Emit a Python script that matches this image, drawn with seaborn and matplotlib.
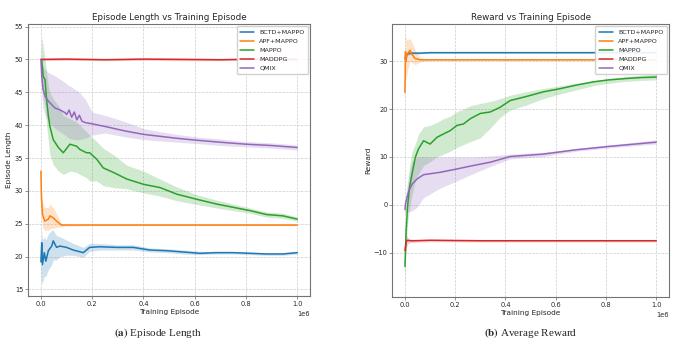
import numpy as np
import pandas as pd
import seaborn as sns
import matplotlib.pyplot as plt

algos = ['BCTD+MAPPO', 'APF+MAPPO', 'MAPPO', 'MADDPG', 'QMIX']
colors = sns.color_palette('tab10', 5)

# ---------- (a) episode length, x in units of 1e6 episodes ----------
len_bctd_x = [0, 0.003, 0.006, 0.013, 0.019, 0.029, 0.042, 0.048, 0.061, 0.074, 0.1, 0.126,
              0.165, 0.19, 0.23, 0.295, 0.36, 0.425, 0.49, 0.555, 0.62, 0.685, 0.75, 0.815, 0.88, 0.944, 1.0]
len_bctd = [19.2, 22.1, 18.8, 20.6, 19.3, 20.9, 21.6, 22.4, 21.4, 21.6, 21.4, 21.0,
            20.6, 21.4, 21.5, 21.4, 21.4, 21.0, 20.9, 20.7, 20.5, 20.6, 20.6, 20.5, 20.4, 20.4, 20.6]
len_bctd_lo = [17.5, 16.0, 16.0, 17.0, 17.0, 18.0, 18.8, 19.5, 19.5, 20.0, 20.2, 20.2,
               19.9, 20.8, 21.0, 21.0, 21.0, 20.7, 20.6, 20.4, 20.3, 20.4, 20.4, 20.3, 20.2, 20.2, 20.4]
len_bctd_hi = [21.0, 24.0, 22.5, 23.0, 22.5, 23.5, 24.0, 24.0, 23.2, 23.0, 22.5, 22.0,
               21.4, 22.0, 22.0, 21.8, 21.8, 21.3, 21.2, 21.0, 20.8, 20.8, 20.8, 20.7, 20.6, 20.6, 20.8]

len_apf_x = [0, 0.002, 0.006, 0.015, 0.029, 0.035, 0.048, 0.061, 0.08, 0.1, 0.2, 0.4, 0.6, 0.8, 1.0]
len_apf = [33.0, 29.0, 26.4, 25.4, 25.7, 26.2, 25.9, 25.4, 24.8, 24.8, 24.8, 24.8, 24.8, 24.8, 24.8]
len_apf_lo = [30.5, 27.0, 24.5, 24.0, 24.0, 24.2, 24.3, 24.4, 24.6, 24.65, 24.7, 24.7, 24.7, 24.7, 24.7]
len_apf_hi = [33.5, 30.0, 28.2, 27.5, 27.5, 28.0, 27.4, 26.5, 25.0, 24.95, 24.9, 24.9, 24.9, 24.9, 24.9]

len_mappo_x = [0, 0.003, 0.009, 0.016, 0.022, 0.029, 0.035, 0.048, 0.068, 0.087, 0.113, 0.139, 0.152,
               0.178, 0.19, 0.218, 0.243, 0.283, 0.335, 0.4, 0.465, 0.53, 0.61, 0.685, 0.75, 0.815, 0.88, 0.944, 1.0]
len_mappo = [50.0, 50.0, 47.4, 46.9, 43.9, 41.4, 39.8, 37.8, 36.6, 35.8, 37.1, 36.8, 36.3,
             35.8, 35.8, 34.8, 33.5, 32.8, 31.8, 31.0, 30.5, 29.5, 28.7, 28.0, 27.5, 27.0, 26.4, 26.2, 25.7]
len_mappo_lo = [49.5, 47.0, 44.0, 43.0, 40.0, 37.5, 35.5, 34.0, 33.0, 32.5, 33.0, 32.8, 32.5,
                32.0, 31.5, 31.5, 30.8, 30.5, 30.3, 29.7, 29.2, 28.5, 27.9, 27.4, 27.0, 26.6, 26.0, 25.8, 25.4]
len_mappo_hi = [50.5, 53.5, 52.0, 50.0, 48.0, 46.0, 45.0, 44.0, 43.0, 41.5, 41.0, 40.5, 40.0,
                39.0, 38.5, 37.5, 36.5, 35.5, 33.9, 33.0, 31.8, 30.6, 29.4, 28.6, 28.0, 27.4, 26.8, 26.6, 26.0]

len_maddpg_x = [0, 0.1, 0.25, 0.4, 0.55, 0.7, 0.85, 1.0]
len_maddpg = [50.0, 50.05, 49.95, 50.05, 50.0, 49.95, 50.05, 50.0]
len_maddpg_lo = [49.8, 49.85, 49.8, 49.85, 49.8, 49.8, 49.85, 49.8]
len_maddpg_hi = [50.2, 50.2, 50.15, 50.2, 50.2, 50.15, 50.2, 50.2]

len_qmix_x = [0, 0.003, 0.008, 0.016, 0.03, 0.055, 0.075, 0.094, 0.1, 0.11, 0.12, 0.13, 0.14, 0.15,
              0.16, 0.172, 0.2, 0.25, 0.33, 0.4, 0.465, 0.53, 0.61, 0.7, 0.8, 0.9, 1.0]
len_qmix = [50.0, 47.5, 45.5, 44.4, 43.6, 42.6, 42.3, 41.9, 41.6, 42.3, 41.2, 42.0, 40.8, 41.5,
            40.6, 40.4, 40.2, 39.8, 39.1, 38.6, 38.3, 38.0, 37.7, 37.4, 37.1, 36.9, 36.6]
len_qmix_lo = [50.0, 45.0, 42.5, 41.5, 40.5, 39.5, 39.0, 38.5, 38.3, 38.0, 37.9, 37.8, 37.8, 37.8,
               37.9, 38.0, 38.5, 38.8, 38.2, 37.8, 37.6, 37.4, 37.2, 36.9, 36.7, 36.5, 36.2]
len_qmix_hi = [50.0, 49.5, 49.0, 48.5, 48.0, 47.5, 47.0, 46.5, 46.3, 46.0, 45.8, 45.5, 45.3, 45.0,
               44.5, 44.0, 42.0, 41.5, 40.5, 39.5, 39.0, 38.6, 38.2, 37.9, 37.5, 37.3, 37.0]

# ---------- (b) average reward ----------
rew_bctd_x = [0, 0.003, 0.008, 0.015, 0.03, 0.06, 0.1, 0.2, 0.4, 0.6, 0.8, 1.0]
rew_bctd = [30.5, 31.2, 31.5, 31.6, 31.7, 31.7, 31.8, 31.8, 31.8, 31.8, 31.8, 31.8]
rew_bctd_lo = [29.5, 30.6, 31.1, 31.3, 31.5, 31.55, 31.65, 31.65, 31.65, 31.65, 31.65, 31.65]
rew_bctd_hi = [31.5, 31.8, 31.9, 31.9, 31.9, 31.85, 31.95, 31.95, 31.95, 31.95, 31.95, 31.95]

rew_apf_x = [0, 0.002, 0.004, 0.007, 0.012, 0.02, 0.027, 0.04, 0.06, 0.08, 0.2, 0.4, 0.6, 0.8, 1.0]
rew_apf = [23.5, 32.0, 30.0, 31.0, 31.7, 32.3, 31.5, 30.6, 30.3, 30.3, 30.3, 30.3, 30.3, 30.3, 30.3]
rew_apf_lo = [20.0, 28.0, 26.0, 27.0, 28.5, 30.0, 29.8, 29.3, 29.8, 30.1, 30.15, 30.15, 30.15, 30.15, 30.15]
rew_apf_hi = [27.0, 35.5, 35.0, 34.5, 34.5, 34.8, 34.0, 32.5, 30.8, 30.5, 30.45, 30.45, 30.45, 30.45, 30.45]

rew_mappo_x = [0, 0.004, 0.01, 0.018, 0.028, 0.041, 0.054, 0.074, 0.1, 0.127, 0.153, 0.18, 0.207, 0.233,
               0.26, 0.3, 0.339, 0.379, 0.419, 0.48, 0.55, 0.62, 0.68, 0.75, 0.81, 0.88, 0.94, 1.0]
rew_mappo = [-12.9, -6.2, -0.5, 3.6, 6.4, 9.9, 11.7, 13.4, 12.7, 14.1, 14.8, 15.5, 16.6, 16.9,
             18.0, 19.1, 19.4, 20.4, 21.8, 22.6, 23.6, 24.3, 25.0, 25.7, 26.1, 26.4, 26.6, 26.7]
rew_mappo_lo = [-17.0, -9.0, -4.0, -1.0, 2.0, 5.0, 6.5, 8.2, 9.0, 10.0, 10.6, 11.2, 12.0, 12.6,
                13.2, 14.0, 16.0, 18.3, 19.8, 20.8, 22.2, 23.2, 24.0, 24.9, 25.4, 25.8, 26.0, 26.1]
rew_mappo_hi = [-11.0, -3.0, 3.0, 8.0, 11.0, 12.7, 14.8, 16.3, 16.6, 17.2, 18.0, 18.5, 19.5, 20.0,
                20.7, 21.2, 21.6, 22.2, 22.9, 23.6, 24.3, 24.9, 25.4, 25.9, 26.4, 26.8, 27.1, 27.3]

rew_maddpg_x = [0, 0.003, 0.006, 0.01, 0.02, 0.04, 0.1, 0.3, 0.5, 0.7, 0.9, 1.0]
rew_maddpg = [-9.5, -8.5, -7.6, -7.4, -7.5, -7.5, -7.4, -7.5, -7.5, -7.5, -7.5, -7.5]
rew_maddpg_lo = [-11.0, -10.3, -9.2, -8.2, -7.9, -7.8, -7.7, -7.75, -7.75, -7.75, -7.75, -7.75]
rew_maddpg_hi = [-7.5, -6.5, -6.3, -6.8, -7.1, -7.2, -7.2, -7.25, -7.25, -7.25, -7.25, -7.25]

rew_qmix_x = [0, 0.003, 0.008, 0.015, 0.028, 0.048, 0.074, 0.14, 0.207, 0.27, 0.339, 0.419, 0.55, 0.68, 0.81, 1.0]
rew_qmix = [-1.0, 0.5, 1.5, 2.9, 4.3, 5.4, 6.3, 6.8, 7.5, 8.2, 8.9, 10.1, 10.6, 11.5, 12.2, 13.1]
rew_qmix_lo = [-2.0, -1.5, -1.5, -1.5, -1.3, -0.5, 1.5, 3.5, 5.0, 6.5, 8.0, 9.6, 10.1, 11.2, 11.9, 12.7]
rew_qmix_hi = [0.0, 2.0, 4.0, 6.0, 9.0, 10.0, 10.0, 10.0, 10.0, 10.0, 10.2, 10.6, 11.0, 11.8, 12.5, 13.6]

len_series = [(len_bctd_x, len_bctd, len_bctd_lo, len_bctd_hi),
              (len_apf_x, len_apf, len_apf_lo, len_apf_hi),
              (len_mappo_x, len_mappo, len_mappo_lo, len_mappo_hi),
              (len_maddpg_x, len_maddpg, len_maddpg_lo, len_maddpg_hi),
              (len_qmix_x, len_qmix, len_qmix_lo, len_qmix_hi)]
rew_series = [(rew_bctd_x, rew_bctd, rew_bctd_lo, rew_bctd_hi),
              (rew_apf_x, rew_apf, rew_apf_lo, rew_apf_hi),
              (rew_mappo_x, rew_mappo, rew_mappo_lo, rew_mappo_hi),
              (rew_maddpg_x, rew_maddpg, rew_maddpg_lo, rew_maddpg_hi),
              (rew_qmix_x, rew_qmix, rew_qmix_lo, rew_qmix_hi)]

sns.set_style('ticks')
plt.rcParams['font.family'] = ['DejaVu Sans']

fig = plt.figure(figsize=(6.86, 3.52), dpi=100)
ax1 = fig.add_axes([0.041, 0.159, 0.411, 0.773])
ax2 = fig.add_axes([0.572, 0.157, 0.403, 0.775])


def draw(ax, series, title, ylabel, ylim):
    frames = []
    for name, c, (x, y, lo, hi) in zip(algos, colors, series):
        xs = np.array(x) * 1e6
        ax.fill_between(xs, lo, hi, color=c, alpha=0.22, lw=0)
        frames.append(pd.DataFrame({'episode': xs, 'value': y, 'algo': name}))
    df = pd.concat(frames, ignore_index=True)
    sns.lineplot(data=df, x='episode', y='value', hue='algo', hue_order=algos,
                 palette=colors, linewidth=1.1, errorbar=None, ax=ax)
    ax.set_ylim(*ylim)
    ax.set_title(title, fontsize=6.3, pad=3)
    ax.set_xlabel('Training Episode', fontsize=5.3, labelpad=1.5)
    ax.set_ylabel(ylabel, fontsize=5.3, labelpad=2)
    ax.tick_params(labelsize=4.8, length=2, width=0.5, pad=1.5, color='0.4')
    ax.xaxis.get_offset_text().set_fontsize(4.8)
    ax.grid(True, linestyle='--', linewidth=0.5, color='0.8')
    for s in ax.spines.values():
        s.set_color('0.45')
        s.set_linewidth(0.8)
    h, l = ax.get_legend_handles_labels()
    ax.legend(h, l, loc='upper right', fontsize=4.6, frameon=True, framealpha=0.9,
              handlelength=2.2, borderpad=0.55, labelspacing=0.55, borderaxespad=0.3)


draw(ax1, len_series, 'Episode Length vs Training Episode', 'Episode Length', (14.0, 55.4))
draw(ax2, rew_series, 'Reward vs Training Episode', 'Reward', (-19.2, 37.8))
ax1.set_yticks([15, 20, 25, 30, 35, 40, 45, 50, 55])
ax2.set_yticks([-10, 0, 10, 20, 30])

fig.text(0.23, 0.054, r'$\mathbf{(a)}$ Episode Length', ha='center', va='center',
         fontsize=8, family='Liberation Serif', math_fontfamily='stix')
fig.text(0.774, 0.054, r'$\mathbf{(b)}$ Average Reward', ha='center', va='center',
         fontsize=8, family='Liberation Serif', math_fontfamily='stix')

fig.savefig('out.png', dpi=100)
